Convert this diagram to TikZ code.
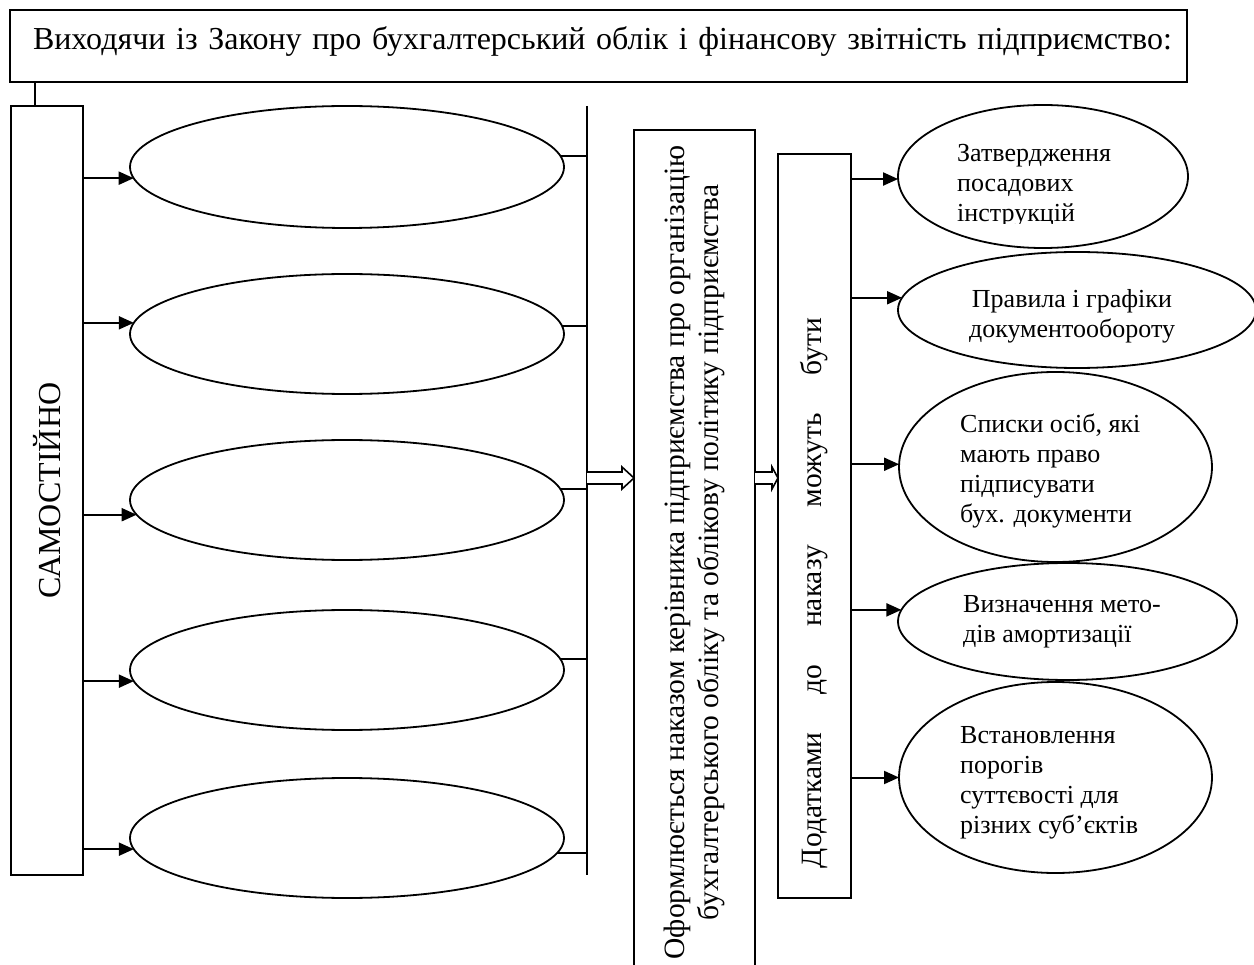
\documentclass[tikz,border=0pt]{standalone}
\usepackage{fontspec}
\setmainfont{Liberation Serif}
\usetikzlibrary{arrows.meta,calc,shapes.geometric}
\begin{document}
\begin{tikzpicture}[x=1pt,y=-1pt,
  ln/.style={line width=2pt},
  arr/.style={line width=2pt,-{Triangle[length=15pt,width=13pt]}},
  box/.style={draw,line width=2pt,inner sep=0pt,outer sep=0pt},
  oval/.style={draw,ellipse,line width=1.8pt,inner sep=0pt,outer sep=0pt},
  big/.style={font=\fontsize{32}{36}\selectfont},
  mid/.style={font=\fontsize{29.5}{34}\selectfont},
  small/.style={font=\fontsize{26}{30}\selectfont,inner sep=0pt},
  hollow/.style={draw,line width=1.6pt,fill=white}]
\useasboundingbox (0,0) rectangle (1254,965);
\fill[white] (0,0) rectangle (1254,965);

% title
\node[box,big,anchor=north west,minimum width=1177pt,minimum height=72pt,
      text width=1167pt,inner xsep=5pt,align=left,text height=22pt,text depth=14pt]
  (title) at (10,10) {\hspace*{18pt}\mbox{Виходячи із Закону про бухгалтерський облік і фінансову звітність підприємство:}};

% left box
\node[box,big,minimum width=72pt,minimum height=769pt] (sam) at (47,490.5)
  {\rotatebox{90}{САМОСТІЙНО}};
\draw[ln] ($(title.south west)+(25,0)$) -- ($(sam.north west)+(24,0)$);

% left ellipses
\node[oval,minimum width=434pt,minimum height=122pt] (l1) at (347,167) {};
\node[oval,minimum width=434pt,minimum height=120pt] (l2) at (347,334) {};
\node[oval,minimum width=434pt,minimum height=120pt] (l3) at (347,500) {};
\node[oval,minimum width=434pt,minimum height=120pt] (l4) at (347,670) {};
\node[oval,minimum width=434pt,minimum height=120pt] (l5) at (347,838) {};

\draw[arr] (sam.east |- l1.183.5) -- (l1.183.5);
\draw[arr] (sam.east |- l2.177.1) -- (l2.177.1);
\draw[arr] (sam.east |- l3.184) -- (l3.184);
\draw[arr] (sam.east |- l4.183.5) -- (l4.183.5);
\draw[arr] (sam.east |- l5.183.2) -- (l5.183.2);

% left collector
\coordinate (ct) at (587,106);
\coordinate (cb) at (587,875);
\draw[ln] (ct) -- (cb);
\draw[ln] (l1.3.8) -- (l1.3.8 -| ct);
\draw[ln] (l2.2.9) -- (l2.2.9 -| ct);
\draw[ln] (l3.3.5) -- (l3.3.5 -| ct);
\draw[ln] (l4.3.5) -- (l4.3.5 -| ct);
\draw[ln] (l5.356.5) -- (l5.356.5 -| ct);

% middle box
\node[box,mid,minimum width=121pt,minimum height=845pt] (ord) at (694.5,552.5)
  {\rotatebox{90}{\begin{tabular}{@{}c@{}}Оформлюється наказом керівника підприємства про організацію\\[0pt]бухгалтерського обліку та облікову політику підприємства\end{tabular}}};

% second box
\node[box,mid,minimum width=73pt,minimum height=744pt] (dod) at (814.5,526)
  {\rotatebox{90}{\makebox[550pt][s]{Додатками до наказу можуть бути}\hspace*{134pt}}};

% hollow arrows
\draw[hollow] (ct |- 0,472) -- (622,472) -- (622,467) -- (ord.west |- 0,478) -- (622,489) -- (622,484) -- (ct |- 0,484);
\draw[hollow] (ord.east |- 0,472) -- (772,472) -- (772,467) -- (dod.west |- 0,478) -- (772,489) -- (772,484) -- (ord.east |- 0,484);

% right ellipses
\node[oval,minimum width=290pt,minimum height=143pt] (r1) at (1043,176.5) {};
\node[oval,minimum width=358pt,minimum height=116pt] (r2) at (1077,310) {};
\node[oval,minimum width=313pt,minimum height=190pt] (r3) at (1055.5,467) {};
\node[oval,minimum width=339pt,minimum height=117pt] (r4) at (1067.5,621.5) {};
\node[oval,minimum width=313pt,minimum height=191pt] (r5) at (1055.5,777.5) {};

\begin{scope}
\clip (900,100) rectangle (1190,224);
\node[small,anchor=west,align=left] (t1) at (957,185.5) {Затвердження\\посадових\\інструкцій};
\end{scope}
\node[small,align=center] (t2) at (1072,316) {Правила і графіки\\документообороту};
\node[small,anchor=west,align=left] (t3) at (960,470.5) {Списки осіб, які\\мають право\\підписувати\\бух. документи};
\node[small,anchor=west,align=left] (t4) at (963,621.5) {Визначення мето-\\дів амортизації};
\node[small,anchor=west,align=left] (t5) at (960,782.5) {Встановлення\\порогів\\суттєвості для\\різних суб’єктів};

\draw[arr] (dod.east |- r1.181) -- (r1.181);
\draw[arr] (dod.east |- r2.176.4) -- (r2.176.4);
\draw[arr] (dod.east |- r3.179.6) -- (r3.179.6);
\draw[arr] (dod.east |- r4.176) -- (r4.176);
\draw[arr] (dod.east |- r5.180) -- (r5.180);
\end{tikzpicture}
\end{document}
